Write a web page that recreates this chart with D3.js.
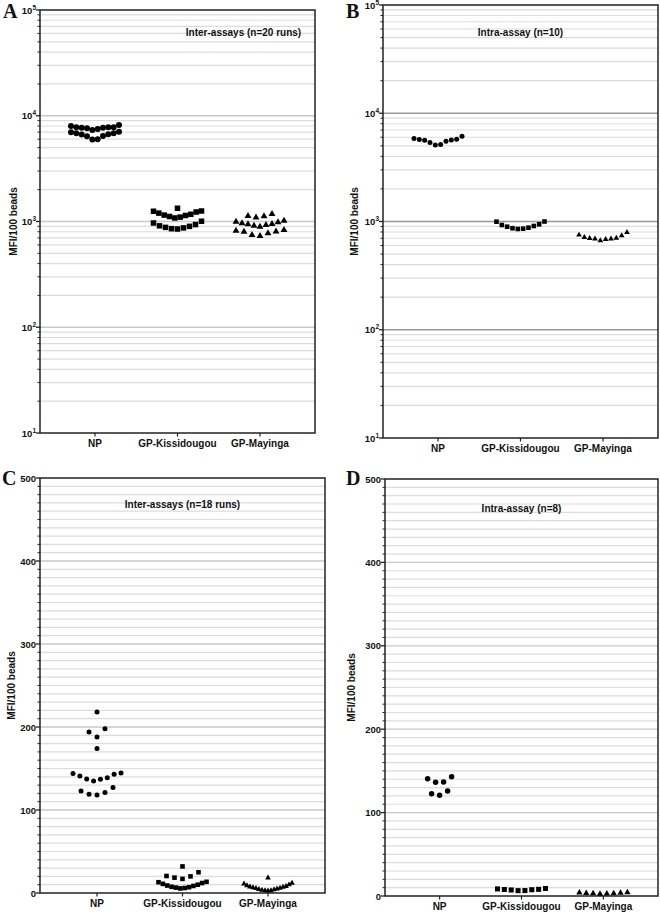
<!DOCTYPE html>
<html>
<head>
<meta charset="utf-8">
<script src="https://cdn.jsdelivr.net/npm/d3@7"></script>
<style>
  body { margin: 0; background: #fff; }
  text { font-family: "Liberation Sans", Arial, sans-serif; font-weight: bold; fill: #111; }
  .letter { font-family: "Liberation Serif", "Times New Roman", serif; font-size: 20px; }
</style>
</head>
<body>
<svg id="chart"></svg>
<script>
const groups = ["NP", "GP-Kissidougou", "GP-Mayinga"];

// A: inter-assays, n=20 runs (log scale)
const aNP   = [8175, 8000, 7780, 7710, 7610, 7330, 7490, 7700, 7770, 7800,
               7050, 6820, 6680, 6435, 5950, 5980, 6400, 6650, 6850, 6975];
const aKiss = [1250, 1230, 1200, 1170, 1140, 1115, 1080, 1100, 1150, 1257, 1334,
               968, 935, 900, 870, 849, 855, 880, 910, 1005];
const aMay  = [1120, 1090, 1130, 1180,
               995, 961, 941, 913, 893, 927, 945, 983, 1018,
               831, 801, 773, 729, 745, 805, 818];

// B: intra-assay, n=10 (log scale)
const bNP   = [5840, 5720, 5640, 5370, 5150, 5100, 5520, 5660, 5740, 6140];
const bKiss = [996, 942, 909, 877, 858, 853, 866, 895, 928, 1000];
const bMay  = [751, 715, 700, 690, 665, 686, 692, 703, 740, 795];

// C: inter-assays, n=18 runs (linear)
const cNP   = [218, 194, 198, 188, 174, 144, 143, 139, 137, 135, 137.5, 141, 144.5,
               127, 121, 118, 119, 123];
const cKiss = [5.5, 6, 6.5, 7, 7.5, 8.5, 9, 10, 11, 12, 13, 13.5,
               17, 18.5, 20, 20.5, 25, 32];
const cMay  = [2.5, 3, 3, 3.5, 4, 4.5, 5, 5.5, 6, 6.5, 7, 7.5, 8, 9, 10, 11, 12, 18.4];

// D: intra-assay, n=8 (linear)
const dNP   = [143, 136.5, 136.7, 140.5, 125.8, 120.7, 122.7];
const dKiss = [8.5, 7.8, 7.5, 6.5, 6.4, 7.2, 8, 9];
const dMay  = [4, 3.5, 3, 2.5, 2.8, 3.2, 3.6, 4.2];

const logTicks = [10, 100, 1000, 10000, 100000];
const linTicks = [0, 100, 200, 300, 400, 500];

const width = 660, height = 913;
const svg = d3.select("#chart").attr("width", width).attr("height", height);

const panels = [
  {letter: "A", lx: 3, ly: 18, x0: 40, x1: 315, y0: 10, y1: 433, type: "log",
   title: "Inter-assays (n=20 runs)", tx: 0.74, ty: 26, ms: 6, darkMajor: false,
   ylabX: 17, series: [aNP, aKiss, aMay]},
  {letter: "B", lx: 346, ly: 18, x0: 383, x1: 658, y0: 5, y1: 438, type: "log",
   title: "Intra-assay (n=10)", tx: 0.5, ty: 31, ms: 5, darkMajor: true,
   ylabX: 358, series: [bNP, bKiss, bMay]},
  {letter: "C", lx: 2, ly: 485, x0: 40, x1: 325, y0: 478, y1: 893, type: "lin",
   title: "Inter-assays (n=18 runs)", tx: 0.5, ty: 30, ms: 5, darkMajor: false,
   ylabX: 15, series: [cNP, cKiss, cMay]},
  {letter: "D", lx: 346, ly: 485, x0: 385, x1: 658, y0: 479, y1: 896, type: "lin",
   title: "Intra-assay (n=8)", tx: 0.5, ty: 33, ms: 5.5, darkMajor: false,
   ylabX: 355, series: [dNP, dKiss, dMay]}
];

const shapes = [d3.symbolCircle, d3.symbolSquare, d3.symbolTriangle];
function symbolArea(k, ms) {
  if (k === 0) return Math.PI * (ms / 2) * (ms / 2);
  if (k === 1) return (ms * 0.92) * (ms * 0.92);
  return Math.sqrt(3) / 4 * (ms * 1.15) * (ms * 1.15);
}

// GraphPad-like spread: bin by pixel row, lowest values centred
function swarm(values, y, binPx, dMax, maxW) {
  const sorted = values.slice().sort((a, b) => a - b);
  const bins = [];
  sorted.forEach(v => {
    const b = bins[bins.length - 1];
    if (b && Math.abs(y(v) - y(b[0])) <= binPx) b.push(v); else bins.push([v]);
  });
  const out = [];
  bins.forEach(b => {
    const n = b.length, d = n > 1 ? Math.min(dMax, maxW / (n - 1)) : 0;
    const offs = d3.range(n).map(i => (i - (n - 1) / 2) * d)
      .sort((p, q) => Math.abs(p) - Math.abs(q) || p - q);
    b.forEach((v, i) => out.push({v: v, dx: offs[i]}));
  });
  return out;
}

panels.forEach(p => {
  const g = svg.append("g");
  const y = p.type === "log"
    ? d3.scaleLog().domain([10, 100000]).range([p.y1, p.y0])
    : d3.scaleLinear().domain([0, 500]).range([p.y1, p.y0]);
  const x = d3.scalePoint().domain(groups).range([p.x0, p.x1]).padding(2 / 3);

  let minor, major;
  if (p.type === "log") {
    major = logTicks;
    minor = [];
    [10, 100, 1000, 10000].forEach(k => d3.range(2, 10).forEach(m => minor.push(m * k)));
  } else {
    major = linTicks;
    minor = d3.range(10, 500, 10).filter(v => v % 100 !== 0);
  }

  // grid
  g.append("g").selectAll("line").data(minor).join("line")
    .attr("x1", p.x0).attr("x2", p.x1)
    .attr("y1", d => y(d)).attr("y2", d => y(d))
    .attr("stroke", "#dcdcdc").attr("stroke-width", 1.2);
  g.append("g").selectAll("line").data(major.slice(1, -1)).join("line")
    .attr("x1", p.x0).attr("x2", p.x1)
    .attr("y1", d => y(d)).attr("y2", d => y(d))
    .attr("stroke", p.darkMajor ? "#999" : "#c8c8c8")
    .attr("stroke-width", p.darkMajor ? 1.6 : 1.3);

  // frame
  g.append("rect")
    .attr("x", p.x0).attr("y", p.y0)
    .attr("width", p.x1 - p.x0).attr("height", p.y1 - p.y0)
    .attr("fill", "none").attr("stroke", "#222").attr("stroke-width", 1.5);

  // y ticks
  g.append("g").selectAll("line").data(minor).join("line")
    .attr("x1", p.x0 - 2.5).attr("x2", p.x0)
    .attr("y1", d => y(d)).attr("y2", d => y(d))
    .attr("stroke", "#222").attr("stroke-width", 1);
  g.append("g").selectAll("line").data(major).join("line")
    .attr("x1", p.x0 - 4).attr("x2", p.x0)
    .attr("y1", d => y(d)).attr("y2", d => y(d))
    .attr("stroke", "#222").attr("stroke-width", 1.3);

  const lab = g.append("g").selectAll("text").data(major).join("text")
    .attr("x", p.x0 - 4).attr("y", d => y(d) + 3.5)
    .attr("text-anchor", "end").attr("font-size", 9.5);
  if (p.type === "log") {
    lab.append("tspan").text("10");
    lab.append("tspan").attr("dy", -4).attr("font-size", 6.5)
      .text(d => Math.round(Math.log10(d)));
  } else {
    lab.text(d => d);
  }

  // x ticks and labels
  g.append("g").selectAll("line").data(groups).join("line")
    .attr("x1", d => x(d)).attr("x2", d => x(d))
    .attr("y1", p.y1).attr("y2", p.y1 + 3.5)
    .attr("stroke", "#222").attr("stroke-width", 1.2);
  g.append("g").selectAll("text").data(groups).join("text")
    .attr("x", d => x(d)).attr("y", p.y1 + 13.5)
    .attr("text-anchor", "middle").attr("font-size", 10)
    .text(d => d);

  // y label
  g.append("text")
    .attr("transform", `translate(${p.ylabX},${(p.y0 + p.y1) / 2}) rotate(-90)`)
    .attr("text-anchor", "middle").attr("font-size", 10)
    .text("MFI/100 beads");

  // title and letter
  g.append("text")
    .attr("x", p.x0 + (p.x1 - p.x0) * p.tx).attr("y", p.y0 + p.ty)
    .attr("text-anchor", "middle").attr("font-size", 10)
    .text(p.title);
  g.append("text").attr("class", "letter")
    .attr("x", p.lx).attr("y", p.ly).text(p.letter);

  // points
  p.series.forEach((vals, k) => {
    const pts = swarm(vals, y, 8.9, 8, 48);
    const sym = d3.symbol().type(shapes[k]).size(symbolArea(k, p.ms));
    g.append("g").selectAll("path").data(pts).join("path")
      .attr("transform", d => `translate(${x(groups[k]) + d.dx},${y(d.v)})`)
      .attr("d", sym)
      .attr("fill", "#000");
  });
});
</script>
</body>
</html>
